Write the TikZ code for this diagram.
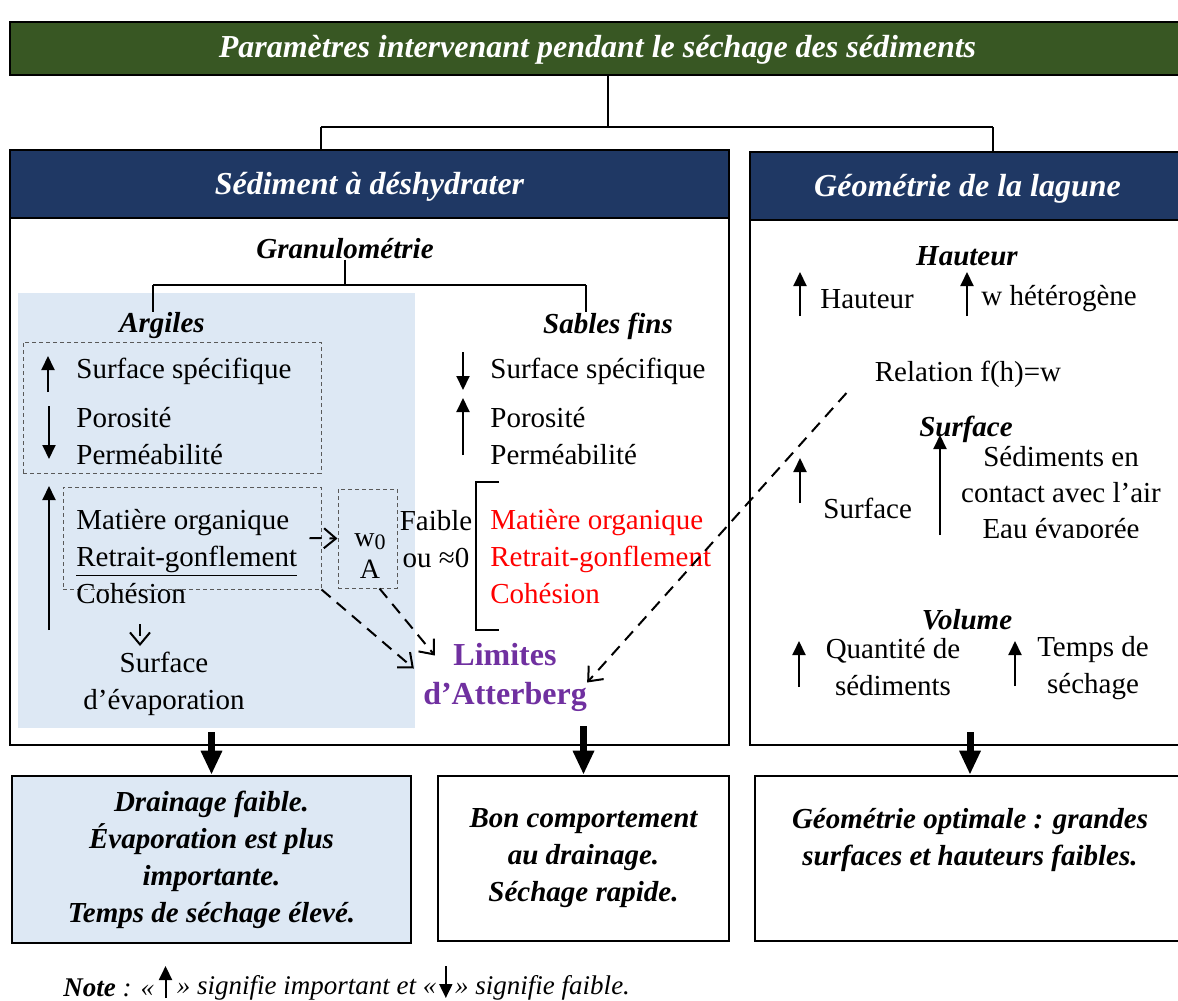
\documentclass[tikz,border=0pt]{standalone}
\usepackage{fontspec}
\setmainfont{Liberation Serif}
\usetikzlibrary{positioning, arrows.meta, fit}
\definecolor{vertfonce}{RGB}{56, 87, 35}
\definecolor{bleunuit}{RGB}{31, 56, 100}
\definecolor{bleupale}{RGB}{221, 232, 244}
\definecolor{violetlim}{RGB}{112, 48, 160}

\begin{document}
\begin{tikzpicture}[
        x=0.5pt, y=-0.5pt,
        titre/.style={draw=black, line width=1.3pt, fill=vertfonce, text=white, font=\fontsize{16}{19}\selectfont\bfseries\itshape, minimum width=587.5pt, minimum height=26.5pt, inner sep=0pt, text depth=2pt},
        entete/.style={draw=black, line width=1.3pt, fill=bleunuit, text=white, font=\fontsize{16}{19}\selectfont\bfseries\itshape, minimum height=34pt, inner sep=0pt, text height=13pt, text depth=3pt},
        corps/.style={draw=black, line width=1.1pt, fill=white, inner sep=0pt},
        resultat/.style={draw=black, line width=1.3pt, inner sep=0pt, align=center, font=\fontsize{14.5}{18.5}\selectfont\bfseries\itshape},
        soustitre/.style={font=\fontsize{14.5}{17}\selectfont\bfseries\itshape, inner sep=0pt},
        texte/.style={font=\fontsize{14.5}{18.5}\selectfont, inner sep=0pt, align=left},
        centre/.style={texte, align=center},
        cadre/.style={draw=gray!70!black, dash pattern=on 2pt off 1.5pt, line width=0.5pt, inner sep=0pt},
        lien/.style={draw=black, line width=1pt},
        fl/.style={-{Triangle[length=7pt,width=6.5pt]}, line width=1pt},
        tiret/.style={dash pattern=on 6pt off 4pt, line width=1pt, -{Straight Barb[length=6pt,width=10pt,line width=1pt]}},
        grosse/.style={line width=3.5pt, -{Triangle[length=12pt,width=10pt]}},
        note/.style={font=\fontsize{13.5}{16}\selectfont\itshape, inner sep=0pt}
    ]
    \useasboundingbox (0,0) rectangle (1178,1001);

    % titre general
    \node[titre] (titre) at (597.5,48.5) {Paramètres intervenant pendant le séchage des sédiments};

    % panneaux
    \node[corps, minimum width=359.5pt, minimum height=263.5pt] (corpsG) at (369.5,481.5) {};
    \node[corps, minimum width=217.5pt, minimum height=262.5pt] (corpsD) at (967.5,482.5) {};
    \fill[bleupale] (18,293) rectangle (415,728);
    \node[entete, minimum width=359.5pt] (enteteG) at (369.5,184) {Sédiment à déshydrater};
    \node[entete, minimum width=217.5pt] (enteteD) at (967.5,186) {Géométrie de la lagune};

    \coordinate (fourche) at (608,127);
    \coordinate (brG) at (321,127);
    \coordinate (brD) at (993,127);
    \draw[lien] (titre.south -| fourche) -- (fourche);
    \draw[lien] (brG) -- (brD);
    \draw[lien] (brG) -- (brG |- enteteG.north);
    \draw[lien] (brD) -- (brD |- enteteD.north);

    % granulometrie
    \node[soustitre] (gran) at (345,249) {Granulométrie};
    \node[soustitre] (argiles) at (162,326) {Argiles};
    \node[soustitre] (sables) at (608,326) {Sables fins};
    \coordinate (gA) at (153,285);
    \coordinate (gS) at (586,285);
    \draw[lien] (gran.south) -- (gran.south |- gA);
    \draw[lien] (gA) -- (gS);
    \draw[lien] (gA) -- (153,312);
    \draw[lien] (gS) -- (586,312);

    % argiles
    \node[cadre, fit={(23,342) (321,473)}] (cadre1) {};
    \node[cadre, fit={(63,487) (321,589)}] (cadre2) {};
    \node[cadre, fit={(338,489) (397,588)}] (cadre3) {};
    \node[texte, anchor=west] (sspecA) at (76,371) {Surface spécifique};
    \node[texte, anchor=west] (poroA) at (76,436.5) {Porosité\\Perméabilité};
    \node[texte, anchor=west] (matA) at (76,556.5) {Matière organique\\\underline{Retrait-gonflement}\\Cohésion};
    \node[centre, font=\fontsize{14}{16}\selectfont] (wA) at (370,556) {w\raisebox{-1.5pt}{\fontsize{11}{12}\selectfont 0}\\A};
    \node[centre] (evap) at (164,683.5) {Surface\\d’évaporation};
    \draw[fl] (48,392) -- (48,356);
    \draw[fl] (49,406) -- (49,459);
    \draw[fl] (49,630) -- (49,486);
    \draw[tiret] ([xshift=-6pt]cadre2.east) -- (cadre3.west);
    \draw[tiret] (140,624) -- (140,646);

    % sables fins
    \node[texte, anchor=west] (sspecS) at (490,371) {Surface spécifique};
    \node[texte, anchor=west] (poroS) at (490,436.5) {Porosité\\Perméabilité};
    \draw[fl] (463,352) -- (463,390);
    \draw[fl] (463,455) -- (463,398);
    \node[centre] (faible) at (436,539.5) {Faible\\ou ≈0};
    \draw[line width=0.9pt] (499,482) -- (476,482) -- (476,630) -- (499,630);
    \node[texte, anchor=west, text=red] (matS) at (490,557) {Matière organique\\Retrait-gonflement\\Cohésion};

    \node[centre, text=violetlim, font=\fontsize{16}{19.5}\selectfont\bfseries] (limites) at (505,677.5) {Limites\\d’Atterberg};
    \draw[tiret] (cadre2.south east) -- ([xshift=-4.5pt,yshift=4.5pt]limites.west);
    \draw[tiret] ([xshift=6pt]cadre3.south) -- ([xshift=6pt,yshift=11pt]limites.west);

    % geometrie de la lagune
    \node[soustitre] (hauteur) at (967,256) {Hauteur};
    \node[texte, anchor=west] (haut1) at (820,299) {Hauteur};
    \node[texte, anchor=west] (haut2) at (981,299) {w hétérogène};
    \draw[fl] (800,316) -- (800,272);
    \draw[fl] (967,316) -- (967,272);
    \node[texte] (relation) at (968,374) {Relation f(h)=w};
    \draw[tiret] ([xshift=-14pt,yshift=-9.5pt]relation.west) -- ([yshift=-2.5pt]limites.east);

    \node[soustitre] (surface) at (966,429) {Surface};
    \node[texte, anchor=west] (surf1) at (823,508) {Surface};
    \begin{scope}
        \clip (950,430) rectangle (1178,537);
        \node[centre, font=\fontsize{14.5}{18}\selectfont] (surf2) at (1061,495.5) {Sédiments en\\contact avec l’air\\Eau évaporée};
    \end{scope}
    \draw[fl] (800,503) -- (800,458);
    \draw[fl] (940,535) -- (940,435);

    \node[soustitre] (volume) at (967,620) {Volume};
    \node[centre] (vol1) at (893,667) {Quantité de\\sédiments};
    \node[centre] (vol2) at (1093,668) {Temps de\\séchage};
    \draw[fl] (799,687) -- (799,641);
    \draw[fl] (1015,686) -- (1015,641);

    % resultats
    \node[resultat, fill=bleupale, minimum width=199.5pt, minimum height=83.5pt] (resG) at (211.5,859.5) {Drainage faible.\\Évaporation est plus\\importante.\\Temps de séchage élevé.};
    \node[resultat, fill=white, minimum width=145.5pt, minimum height=82.5pt] (resM) at (583.5,858.5) {Bon comportement\\au drainage.\\Séchage rapide.};
    \node[resultat, fill=white, minimum width=215pt, minimum height=82.5pt] (resD) at (970,858.5) {};
    \node[resultat, draw=none] (resDtxt) at (970,840.5) {Géométrie optimale : grandes\\surfaces et hauteurs faibles.};
    \draw[grosse] (resG.north |- corpsG.south) ++(0,-14) -- (resG.north);
    \draw[grosse] (resM.north |- corpsG.south) ++(0,-20) -- (resM.north);
    \draw[grosse] (resD.north |- corpsD.south) ++(0,-14) -- (resD.north);

    % note
    \node[note, anchor=west] (note1) at (63,988) {\textbf{Note} : «};
    \node[note, right=11pt of note1] (note2) {» signifie important et «};
    \node[note, right=9pt of note2] (note3) {» signifie faible.};
    \path (note1.east) -- (note2.west) coordinate[midway] (f1);
    \path (note2.east) -- (note3.west) coordinate[midway] (f2);
    \draw[fl] ([yshift=-5pt]f1) -- ([yshift=11pt]f1);
    \draw[fl] ([yshift=11pt]f2) -- ([yshift=-5pt]f2);
\end{tikzpicture}
\end{document}
